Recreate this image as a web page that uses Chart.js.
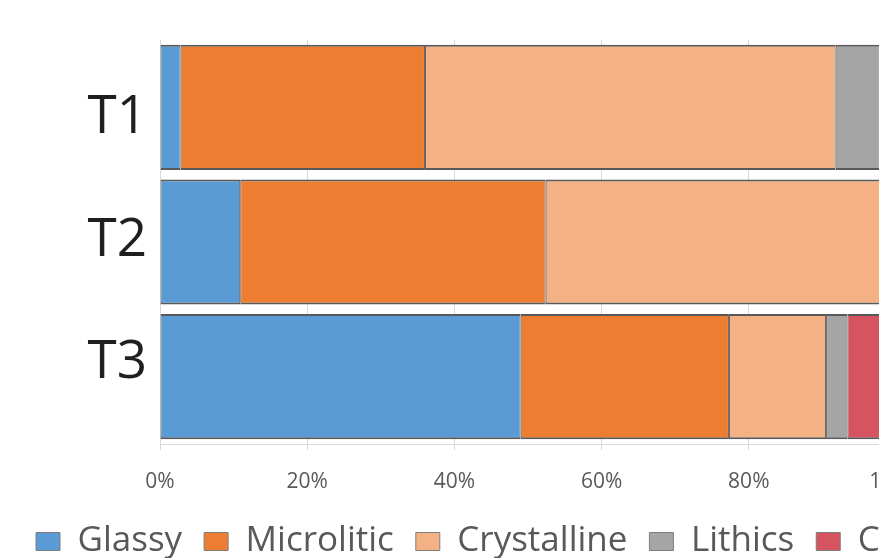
<!DOCTYPE html>
<html>
<head>
<meta charset="utf-8">
<script src="https://cdn.jsdelivr.net/npm/chart.js@4/dist/chart.umd.min.js"></script>
<style>
  html, body { margin: 0; padding: 0; background: #fff; width: 879px; height: 558px; overflow: hidden; }
  #wrap { position: absolute; left: 0; top: 0; width: 1100px; height: 569px; }
</style>
</head>
<body>
<div id="wrap"><canvas id="c" width="1100" height="569"></canvas></div>
<script>
// Samples and component shares (% of each sample)
const samples     = ['T1', 'T2', 'T3'];
const glassy      = [2.8, 10.9, 49.0];
const microlitic  = [33.2, 41.5, 28.3];
const crystalline = [55.8, 46.5, 13.2];
const lithics     = [6.0, 0.6, 2.9];
const crystals    = [2.2, 0.5, 6.6];
const xTicks      = [0, 20, 40, 60, 80, 100];

const FONT = "'Open Sans', 'Liberation Sans', sans-serif";
const EDGE = '#595959';
const NAME_MIN = -0.637, NAME_MAX = 2.661;

function series(label, data, color) {
  return {
    label, data,
    backgroundColor: color,
    borderColor: EDGE,
    borderWidth: { top: 2, bottom: 2, left: 1, right: 1 },
    borderSkipped: false,
    barPercentage: 0.93,
    categoryPercentage: 1.0
  };
}

new Chart(document.getElementById('c'), {
  type: 'bar',
  data: {
    labels: samples,
    datasets: [
      series('Glassy', glassy, '#5B9BD5'),
      series('Microlitic', microlitic, '#ED7D31'),
      series('Crystalline', crystalline, '#F4B183'),
      series('Lithics', lithics, '#A5A5A5'),
      series('Crystals', crystals, '#D65460')
    ]
  },
  options: {
    indexAxis: 'y',
    responsive: false,
    animation: false,
    layout: { padding: { left: 14, top: 40, right: 0, bottom: 0 } },
    scales: {
      x: {
        stacked: true,
        min: 0, max: 100,
        afterBuildTicks: s => { s.ticks = xTicks.map(v => ({ value: v })); },
        afterFit: s => { s.height = 58; },
        grid: { color: '#D9D9D9', lineWidth: 1, tickLength: 6, drawTicks: true },
        border: { color: '#D9D9D9', width: 1 },
        ticks: {
          color: '#595959',
          font: { family: FONT, size: 21 },
          padding: 19.5,
          callback: v => v + '%'
        }
      },
      y: {
        stacked: true,
        display: false
      },
      // sample names, set on their own axis
      names: {
        type: 'linear',
        position: 'left',
        reverse: true,
        offset: false,
        bounds: 'data',
        min: NAME_MIN, max: NAME_MAX,
        afterDataLimits: s => { s.min = NAME_MIN; s.max = NAME_MAX; },
        afterBuildTicks: s => {
          s.ticks = samples.map((_, i) => ({ value: i }));
          s.min = NAME_MIN; s.max = NAME_MAX;
        },
        afterFit: s => { s.width = 146; },
        grid: { display: false, drawTicks: false },
        border: { display: false },
        ticks: {
          color: '#1F1F1F',
          font: { family: FONT, size: 53, lineHeight: 1 },
          padding: 13,
          callback: v => samples[v]
        }
      },
      yr: {
        position: 'right',
        offset: false,
        afterFit: s => { s.width = 204; },
        grid: { display: false, drawTicks: false },
        border: { display: false },
        ticks: { display: false }
      }
    },
    plugins: {
      legend: {
        position: 'bottom',
        align: 'start',
        labels: {
          color: '#595959',
          font: { family: FONT, size: 35 },
          boxWidth: 24,
          boxHeight: 18,
          padding: 22,
          generateLabels: chart => chart.data.datasets.map((d, i) => ({
            text: d.label,
            fillStyle: d.backgroundColor,
            strokeStyle: '#7F7F7F',
            lineWidth: 1,
            fontColor: '#595959',
            datasetIndex: i,
            hidden: false
          }))
        }
      },
      tooltip: { enabled: false }
    }
  }
});
</script>
</body>
</html>
